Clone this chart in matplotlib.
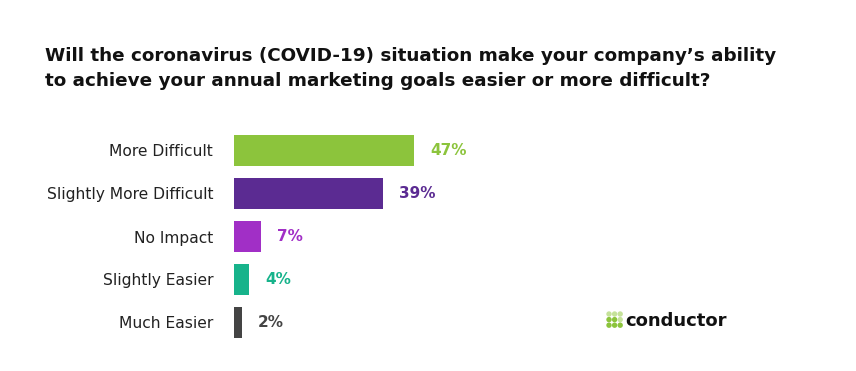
import matplotlib.pyplot as plt
from matplotlib.patches import Circle

# DATA

categories = ["More Difficult", "Slightly More Difficult", "No Impact", "Slightly Easier", "Much Easier"]
values = [47, 39, 7, 4, 2]
colors = ["#8cc43c", "#5b2b92", "#a12fc6", "#17b38b", "#444444"]

title = ("Will the coronavirus (COVID-19) situation make your company\u2019s ability\n"
         "to achieve your annual marketing goals easier or more difficult?")

plt.rcParams["font.family"] = ["DejaVu Sans"]

fig = plt.figure(figsize=(8.56, 3.71), dpi=100)
ax = fig.add_axes([234 / 856, 27 / 371, 366 / 856, 215 / 371])

y = list(range(len(categories)))
ax.barh(y, values, color=colors, height=0.72)
ax.set_ylim(len(categories) - 0.5, -0.5)
ax.set_xlim(0, 366 / 3.83)

for i, v in enumerate(values):
    ax.text(v + 4.2, i, f"{v}%", va="center", ha="left", fontsize=11,
            fontweight="bold", color=colors[i])

ax.set_yticks(y)
ax.set_yticklabels(categories, fontsize=11.2, color="#222222")
ax.tick_params(axis="y", length=0, pad=15)
ax.set_xticks([])
for s in ax.spines.values():
    s.set_visible(False)

fig.text(45 / 856, 1 - 47 / 371, title, ha="left", va="top", fontsize=13.2,
         fontweight="bold", color="#111111", linespacing=1.5)

# conductor logo
for r in range(3):
    for c in range(3):
        shade = "#c5e29a" if r == 0 or (r == 1 and c == 2) else "#8cc43c"
        fig.add_artist(Circle(((609 + c * 5.6) / 100, (371 - (314 + r * 5.6)) / 100), 2.7 / 100,
                              transform=fig.dpi_scale_trans, color=shade, lw=0))
fig.text(625 / 856, 1 - 321 / 371, "conductor", ha="left", va="center", fontsize=13,
         color="#111111", fontweight="bold")

fig.savefig("out.png", dpi=100)
